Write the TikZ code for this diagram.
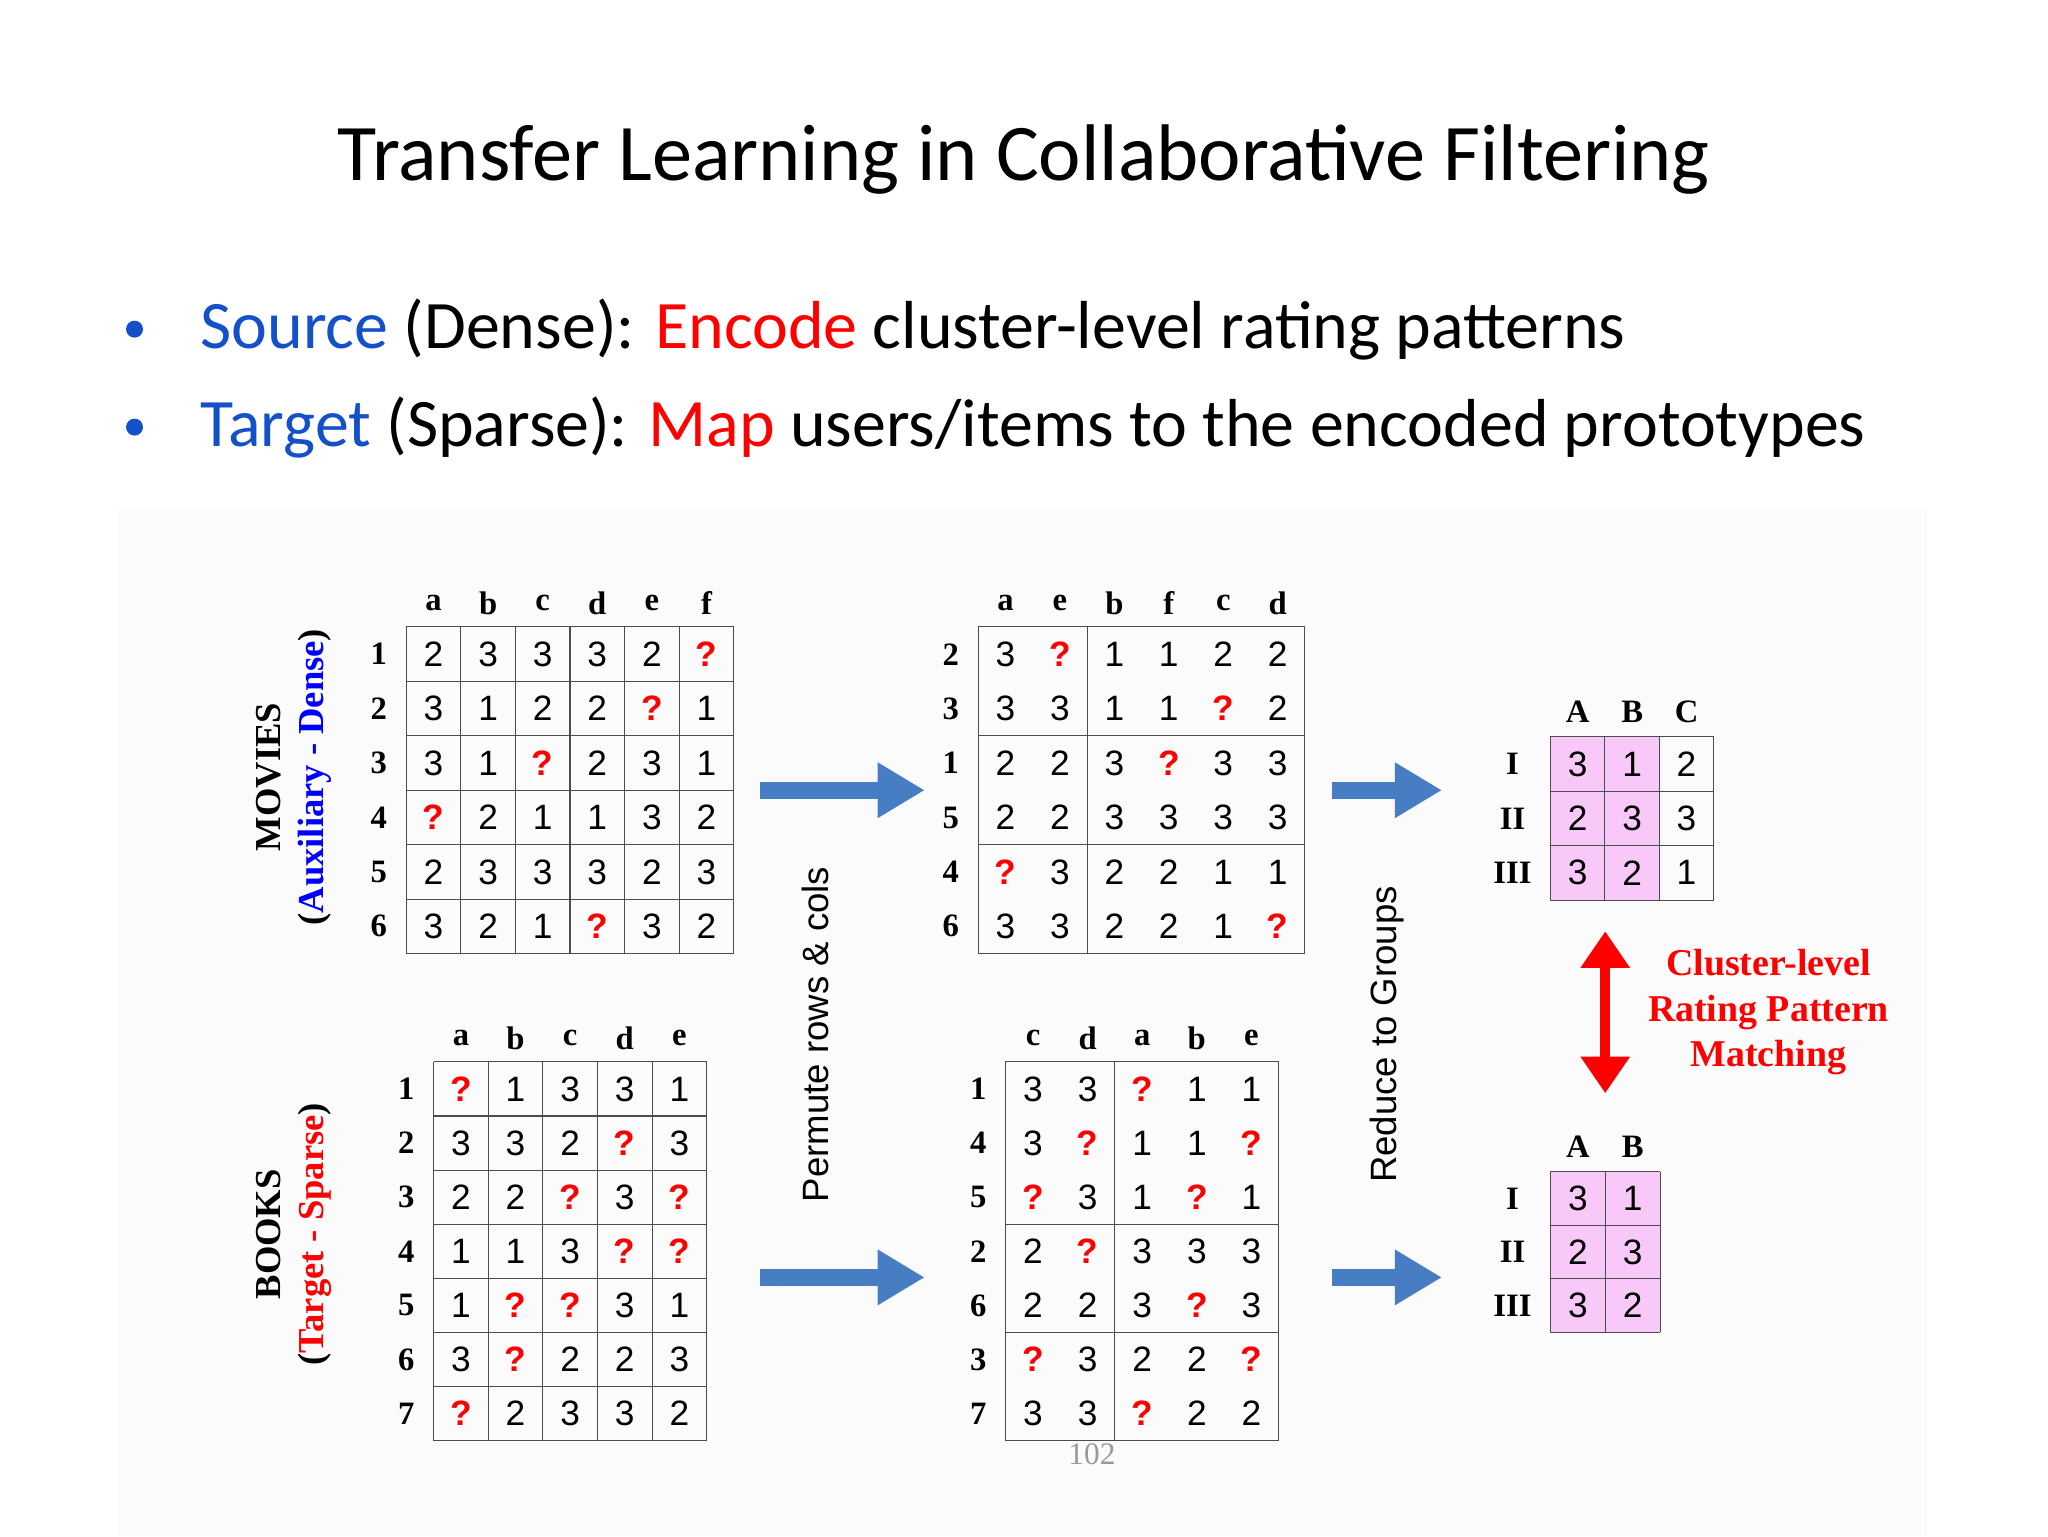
\documentclass[tikz,border=0pt]{standalone}
\usepackage{fontspec}
\setmainfont{Liberation Serif}
\setsansfont{Liberation Sans}
\newfontfamily\calfont{Carlito}
\usetikzlibrary{arrows.meta}
\definecolor{tblue}{RGB}{20,80,200}
\definecolor{ablue}{RGB}{70,125,195}
\definecolor{pinkc}{RGB}{248,200,248}
\newcommand{\q}{\textcolor{red}{\bfseries ?}}
\tikzset{
 num/.style={font=\sffamily\fontsize{27}{27}\selectfont,inner sep=0pt},
 lab/.style={font=\bfseries\fontsize{25}{25}\selectfont,inner sep=0pt},
 grd/.style={draw=black!70,line width=0.8pt},
 bar/.style={-{Triangle[length=36pt,width=40pt]},line width=13pt,ablue},
}
% \mat{name}{x0}{y0}{cw}{rh}{rows}
\newcommand{\mat}[6]{%
 \foreach \r [count=\i] in {#6}{%
  \foreach \v [count=\j] in \r {%
   \node[num] (#1-\i-\j) at ({#2+(\j-0.5)*#4},{#3+(\i-0.5)*#5}) {\v};}}}
\begin{document}
\begin{tikzpicture}[x=1pt,y=-1pt]
\useasboundingbox (0,0) rectangle (1568,1176);
\fill[black!1.5] (90,390) rectangle (1475,1176);
\node[font=\calfont\fontsize{61.5}{61.5}\selectfont] (title) at (784,122) {Transfer Learning in Collaborative Filtering};
\node[font=\calfont\fontsize{52}{52}\selectfont,anchor=west] (b1) at (150,252) {\textcolor{tblue}{Source} (Dense): \textcolor{red}{Encode} cluster-level rating patterns};
\node[font=\calfont\fontsize{52}{52}\selectfont,anchor=west] (b2) at (150,327) {\textcolor{tblue}{Target} (Sparse): \textcolor{red}{Map} users/items to the encoded prototypes};
\fill[tblue] (103,252) circle (6.5) (103,327) circle (6.5);
% M1
\foreach \k in {0,...,6}{\draw[grd] (311+\k*41.8,480)--(311+\k*41.8,730); \draw[grd] (311,480+\k*41.67)--(562,480+\k*41.67);}
\mat{m1}{311}{480}{41.8}{41.67}{{2,3,3,3,2,\q},{3,1,2,2,\q,1},{3,1,\q,2,3,1},{\q,2,1,1,3,2},{2,3,3,3,2,3},{3,2,1,\q,3,2}}
\foreach \c [count=\j] in {a,b,c,d,e,f}{\node[lab] (m1c\j) at (311+41.8*\j-20.9,462) {\c};}
\foreach \c [count=\j] in {1,...,6}{\node[lab] (m1r\j) at (290,480+41.67*\j-20.8) {\c};}
% M2
\draw[grd] (749,480) rectangle (999,730) (832.3,480)--(832.3,730) (749,563.3)--(999,563.3) (749,646.7)--(999,646.7);
\mat{m2}{749}{480}{41.67}{41.67}{{3,\q,1,1,2,2},{3,3,1,1,\q,2},{2,2,3,\q,3,3},{2,2,3,3,3,3},{\q,3,2,2,1,1},{3,3,2,2,1,\q}}
\foreach \c [count=\j] in {a,e,b,f,c,d}{\node[lab] (m2c\j) at (749+41.67*\j-20.8,462) {\c};}
\foreach \c [count=\j] in {2,3,1,5,4,6}{\node[lab] (m2r\j) at (728,480+41.67*\j-20.8) {\c};}
% B1
\foreach \k in {0,...,5}{\draw[grd] (332+\k*41.8,813)--(332+\k*41.8,1103);}
\foreach \k in {0,...,7}{\draw[grd] (332,813+\k*41.43)--(541,813+\k*41.43);}
\mat{b1m}{332}{813}{41.8}{41.43}{{\q,1,3,3,1},{3,3,2,\q,3},{2,2,\q,3,\q},{1,1,3,\q,\q},{1,\q,\q,3,1},{3,\q,2,2,3},{\q,2,3,3,2}}
\foreach \c [count=\j] in {a,b,c,d,e}{\node[lab] (b1c\j) at (332+41.8*\j-20.9,795) {\c};}
\foreach \c [count=\j] in {1,...,7}{\node[lab] (b1r\j) at (311,813+41.43*\j-20.7) {\c};}
% B2
\draw[grd] (770,813) rectangle (979,1103) (853.6,813)--(853.6,1103) (770,937.3)--(979,937.3) (770,1020.1)--(979,1020.1);
\mat{b2m}{770}{813}{41.8}{41.43}{{3,3,\q,1,1},{3,\q,1,1,\q},{\q,3,1,\q,1},{2,\q,3,3,3},{2,2,3,\q,3},{\q,3,2,2,\q},{3,3,\q,2,2}}
\foreach \c [count=\j] in {c,d,a,b,e}{\node[lab] (b2c\j) at (770+41.8*\j-20.9,795) {\c};}
\foreach \c [count=\j] in {1,4,5,2,6,3,7}{\node[lab] (b2r\j) at (749,813+41.43*\j-20.7) {\c};}
% small matrices
\fill[pinkc] (1187,564) rectangle (1271,689) (1187,897) rectangle (1271,1020);
\foreach \k in {0,...,3}{\draw[grd] (1187+\k*41.7,564)--(1187+\k*41.7,689); \draw[grd] (1187,564+\k*41.7)--(1312,564+\k*41.7);}
\foreach \k in {0,...,2}{\draw[grd] (1187+\k*42,897)--(1187+\k*42,1020);}
\foreach \k in {0,...,3}{\draw[grd] (1187,897+\k*41)--(1271,897+\k*41);}
\mat{s1}{1187}{564}{41.7}{41.7}{{3,1,2},{2,3,3},{3,2,1}}
\mat{s2}{1187}{897}{42}{41}{{3,1},{2,3},{3,2}}
\foreach \c [count=\j] in {A,B,C}{\node[lab] (s1c\j) at (1187+41.7*\j-20.8,545) {\c};}
\foreach \c [count=\j] in {A,B}{\node[lab] (s2c\j) at (1187+42*\j-21,878) {\c};}
\foreach \c [count=\j] in {I,II,III}{\node[lab] (s1r\j) at (1158,564+41.7*\j-20.8) {\c}; \node[lab] (s2r\j) at (1158,897+41*\j-20.5) {\c};}
% arrows
\coordinate (a1s) at (582,605); \coordinate (a1e) at (708,605);
\coordinate (a2s) at (582,978); \coordinate (a2e) at (708,978);
\coordinate (a3s) at (1020,605); \coordinate (a3e) at (1104,605);
\coordinate (a4s) at (1020,978); \coordinate (a4e) at (1104,978);
\draw[bar] (a1s)--(a1e); \draw[bar] (a2s)--(a2e); \draw[bar] (a3s)--(a3e); \draw[bar] (a4s)--(a4e);
\coordinate (r1) at (1229,713); \coordinate (r2) at (1229,837);
\draw[red,line width=8pt,{Triangle[length=28pt,width=36pt]}-{Triangle[length=28pt,width=36pt]}] (r1)--(r2);
\node[red,font=\bfseries\fontsize{29}{35}\selectfont,align=center] (cl) at (1354,775) {Cluster-level\\Rating Pattern\\Matching};
\node[rotate=90,font=\sffamily\fontsize{28}{28}\selectfont] (perm) at (624,792) {Permute rows \& cols};
\node[rotate=90,font=\sffamily\fontsize{28}{28}\selectfont] (red) at (1062,792) {Reduce to Groups};
\node[rotate=90,font=\bfseries\fontsize{28}{28}\selectfont] (mv) at (206,595) {MOVIES};
\node[rotate=90,font=\bfseries\fontsize{28}{28}\selectfont] (mv2) at (241,595) {(\textcolor{blue}{Auxiliary - Dense})};
\node[rotate=90,font=\bfseries\fontsize{28}{28}\selectfont] (bk) at (206,945) {BOOKS};
\node[rotate=90,font=\bfseries\fontsize{28}{28}\selectfont] (bk2) at (241,945) {(\textcolor{red}{Target - Sparse})};
\node[black!40,font=\fontsize{24}{24}\selectfont] (pg) at (836,1113) {102};
\end{tikzpicture}
\end{document}
